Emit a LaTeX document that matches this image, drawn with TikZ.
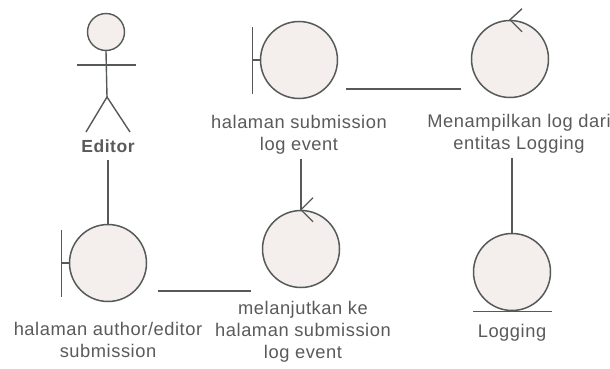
\documentclass[tikz,border=0pt]{standalone}
\usepackage{fontspec}
\setmainfont{Liberation Sans}[LetterSpace=3.0]
\usetikzlibrary{calc}
\definecolor{cfill}{RGB}{244,239,237}
\definecolor{cline}{RGB}{85,90,88}
\definecolor{ctext}{RGB}{90,90,90}
\begin{document}
\begin{tikzpicture}[x=1pt,y=-1pt,
  obj/.style={circle,draw=cline,fill=cfill,line width=1.5pt,minimum size=77pt,inner sep=0pt},
  conn/.style={draw=cline,line width=1.4pt},
  lbl/.style={text=ctext,font=\fontsize{18.3}{22}\selectfont,align=center,anchor=base,inner sep=0pt}]
\useasboundingbox[fill=white] (0,0) rectangle (610,369);

% objects
\node[obj] (b1) at (299,60) {};
\node[obj] (c1) at (510,59) {};
\node[obj] (b2) at (108,263) {};
\node[obj] (c2) at (301,249) {};
\node[obj] (e1) at (512,272) {};

% boundary bars
\draw[conn] ([xshift=-7pt,yshift=33pt]b1.west) -- ([xshift=-7pt,yshift=-34pt]b1.west);
\draw[conn] ([xshift=-7pt]b1.west) -- (b1.west);
\draw[conn] ([xshift=-7pt,yshift=33pt]b2.west) -- ([xshift=-7pt,yshift=-34pt]b2.west);
\draw[conn] ([xshift=-7pt]b2.west) -- (b2.west);

% entity underline
\draw[conn] ([xshift=-39pt]e1.south) -- ([xshift=40pt]e1.south);

% control arrowheads
\draw[conn] ([xshift=12pt,yshift=11pt]c1.north) -- (c1.north) -- ([xshift=12pt,yshift=-12pt]c1.north);
\draw[conn] ([xshift=12pt,yshift=12pt]c2.north) -- (c2.north) -- ([xshift=12pt,yshift=-12pt]c2.north);

% actor
\node[circle,draw=cline,fill=cfill,line width=1.4pt,minimum size=37pt,inner sep=0pt] (head) at (106,32) {};
\coordinate (hip) at (107,97);
\coordinate (armL) at (77,65);
\coordinate (armR) at (136,65);
\coordinate (footL) at (86,132);
\coordinate (footR) at (130,132);
\draw[conn] (head.south) -- (hip);
\draw[conn] (armL) -- (armR);
\draw[conn] (footL) -- (hip) -- (footR);

% labels (base = baseline of last line)
\node[lbl,font=\bfseries\fontsize{17.5}{22}\selectfont] (ed) at (108,152) {Editor};
\node[lbl] (lb1) at (299,150) {halaman submission\\log event};
\node[lbl] (lc1) at (519,149) {Menampilkan log dari\\entitas Logging};
\node[lbl] (lb2) at (108,357) {halaman author/editor\\submission};
\node[lbl] (lc2) at (303,358) {melanjutkan ke\\halaman submission\\log event};
\node[lbl] (le1) at (512,337) {Logging};

% connectors
\draw[conn] ([yshift=-8pt]ed.south) -- (b2.north);
\draw[conn] ([xshift=8pt,yshift=-29pt]b1.east) -- ([xshift=-10pt,yshift=-30pt]c1.west);
\draw[conn] ([xshift=10.5pt,yshift=-28pt]b2.east) -- ([xshift=-10.5pt,yshift=-42pt]c2.west);
\draw[conn] ($(c2.north |- lb1.south)+(0,5)$) -- (c2.north);
\draw[conn] ($(e1.north |- lc1.south)+(0,5)$) -- (e1.north);
\end{tikzpicture}
\end{document}
